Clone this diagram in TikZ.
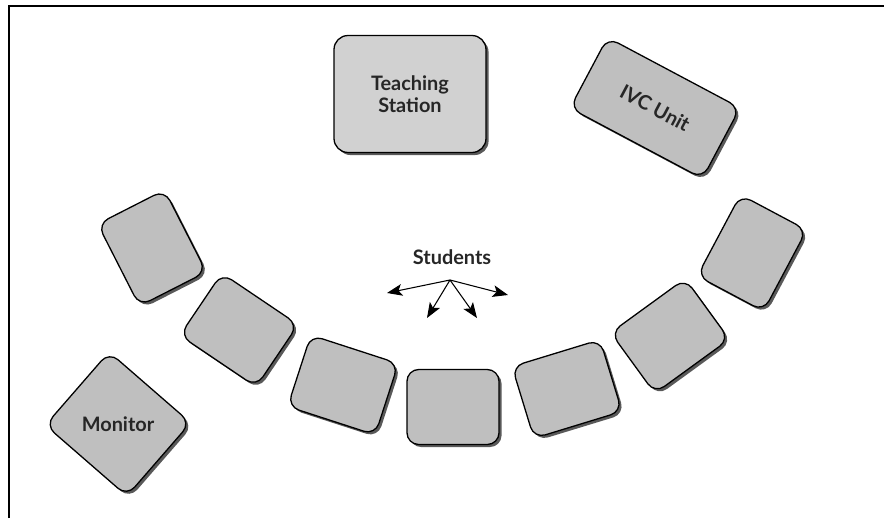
\documentclass[tikz,border=0pt]{standalone}
\usepackage{fontspec}
\setmainfont{Lato}
\usetikzlibrary{shadows,arrows.meta}
\newcommand{\pxl}{0.03cm}

\begin{document}
\begin{tikzpicture}[x=\pxl, y=\pxl,
    desk/.style={draw, rectangle, rounded corners=10pt, line width=1.1pt, fill=black!25,
        minimum width=92*\pxl, minimum height=75*\pxl, inner sep=0pt,
        drop shadow={shadow xshift=2.2pt, shadow yshift=-2.2pt, opacity=1, fill=black!65}},
    lbl/.style={font=\fontsize{17}{19}\selectfont\bfseries, text=black!85, align=center, inner sep=0pt},
    arr/.style={-{Stealth[length=13pt, width=10pt, inset=3pt]}, line width=0.9pt}]
    \useasboundingbox (0,0) rectangle (884,518);
    % Frame
    \draw[line width=1.8pt] (9,0) -- (9,512) -- (884,512);

    % Front of the room
    \node[desk, fill=black!18, minimum width=152*\pxl, minimum height=117*\pxl, rounded corners=12pt] (station) at (410,424) {};
    \node[lbl] (station-text) at (station) {Teaching\\Station};
    \node[desk, minimum width=150*\pxl, minimum height=80*\pxl, rotate=-28] (ivc) at (655,410) {};
    \node[lbl, rotate=-28] (ivc-text) at (ivc) {IVC Unit};
    \node[desk, minimum width=108*\pxl, minimum height=97*\pxl, rotate=-41] (monitor) at (118,94) {};
    \node[lbl] (monitor-text) at (monitor) {Monitor};

    % Desks
    \node[desk, rotate=-63] (desk-1) at (152,270) {};
    \node[desk, rotate=-34] (desk-2) at (239,188) {};
    \node[desk, rotate=-18] (desk-3) at (343,133) {};
    \node[desk] (desk-4) at (453,111) {};
    \node[desk, rotate=17] (desk-5) at (567,129) {};
    \node[desk, rotate=36] (desk-6) at (670,182) {};
    \node[desk, rotate=62] (desk-7) at (752,265) {};

    % Students
    \node[lbl] (students) at (452,261) {Students};
    \coordinate (fan) at (450,238);
    \coordinate (fan-1) at (387,225);
    \coordinate (fan-2) at (427,200);
    \coordinate (fan-3) at (477,200);
    \coordinate (fan-4) at (508,223);
    \draw[arr] (fan) -- (fan-1);
    \draw[arr] (fan) -- (fan-2);
    \draw[arr] (fan) -- (fan-3);
    \draw[arr] (fan) -- (fan-4);

\end{tikzpicture}
\end{document}
